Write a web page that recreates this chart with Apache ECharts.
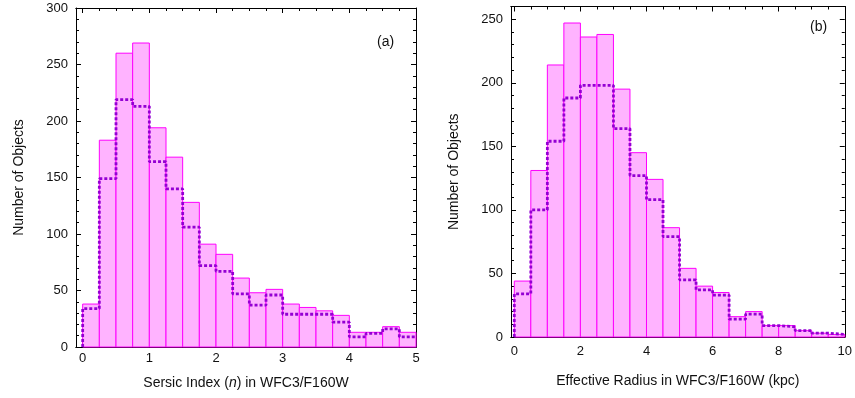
<!DOCTYPE html>
<html>
<head>
<meta charset="utf-8">
<script src="https://cdn.jsdelivr.net/npm/echarts@6/dist/echarts.min.js"></script>
<style>
  html, body { margin: 0; padding: 0; background: #fff; }
  #chart { width: 855px; height: 398px; }
</style>
</head>
<body>
<div id="chart"></div>
<script>
// Panel (a): Sersic index histogram, bins of 0.25 starting at 0
const sersicBinWidth = 0.25;
const sersicAll = [38, 183, 260, 269, 194, 168, 128, 91, 82, 61, 48, 51, 38, 35, 32, 28, 13, 13, 18, 13];
const sersicSub = [34, 149, 219, 213, 164, 140, 106, 72, 67, 47, 37, 46, 29, 29, 29, 22, 9, 12, 16, 9];
const sersicTicks = [0, 1, 2, 3, 4, 5];

// Panel (b): effective radius histogram, bins of 0.5 kpc starting at 0
const radiusBinWidth = 0.5;
const radiusAll = [44, 131, 214, 247, 236, 238, 195, 145, 124, 86, 54, 40, 35, 16, 20, 9, 9, 5, 3, 2];
const radiusSub = [34, 100, 154, 188, 198, 198, 164, 127, 108, 79, 45, 37, 33, 14, 18, 9, 8, 5, 3, 2];
const radiusTicks = [0, 2, 4, 6, 8, 10];

const FONT = '"Liberation Sans", Arial, sans-serif';
const TXT = '#111';

function binRects(counts, w) {
  return counts.map((v, i) => [i * w, (i + 1) * w, v]);
}
// step outline: start at the axis, then the right edge of each bin at its count
function stepPoints(counts, w) {
  const pts = [[0, 0]];
  counts.forEach((v, i) => pts.push([(i + 1) * w, v]));
  return pts;
}
function minorList(maxV, step) {
  const out = [];
  for (let k = 0; k * step <= maxV + 1e-9; k++) out.push(+(k * step).toFixed(4));
  return out;
}

function xAxes(gridIndex, max, majors, minors, name, labelMargin, nameGap) {
  const base = {
    type: 'value', gridIndex, min: -0.1, max,
    splitLine: { show: false },
    axisLine: { show: true, onZero: false, lineStyle: { color: '#000', width: 1 } },
  };
  return [
    Object.assign({}, base, {
      position: 'bottom',
      axisTick: { show: true, inside: true, length: 5, customValues: majors, lineStyle: { color: '#000' } },
      axisLabel: { show: true, customValues: majors, margin: labelMargin, color: TXT, fontSize: 13, fontFamily: FONT, formatter: v => String(v) },
      name, nameLocation: 'middle', nameGap,
      nameTextStyle: { color: TXT, fontSize: 14, fontFamily: FONT, rich: { i: { fontStyle: 'italic', fontSize: 14, fontFamily: FONT, color: TXT } } }
    }),
    Object.assign({}, base, {
      position: 'bottom',
      axisTick: { show: true, inside: true, length: 3, customValues: minors, lineStyle: { color: '#000' } },
      axisLabel: { show: false }
    }),
    Object.assign({}, base, {
      position: 'top',
      axisTick: { show: true, inside: true, length: 5, customValues: majors, lineStyle: { color: '#000' } },
      axisLabel: { show: false }
    }),
    Object.assign({}, base, {
      position: 'top',
      axisTick: { show: true, inside: true, length: 3, customValues: minors, lineStyle: { color: '#000' } },
      axisLabel: { show: false }
    })
  ];
}

function yAxes(gridIndex, max, interval, nameGap) {
  const base = {
    type: 'value', gridIndex, min: 0, max, interval,
    splitLine: { show: false },
    axisLine: { show: true, onZero: false, lineStyle: { color: '#000', width: 1 } },
    axisTick: { show: true, inside: true, length: 5, lineStyle: { color: '#000' } },
    minorTick: { show: true, splitNumber: 5, length: 3, lineStyle: { color: '#000' } },
    minorSplitLine: { show: false }
  };
  return [
    Object.assign({}, base, {
      position: 'left',
      axisLabel: { show: true, margin: 8, color: TXT, fontSize: 13, fontFamily: FONT },
      name: 'Number of Objects', nameLocation: 'middle', nameGap,
      nameTextStyle: { color: TXT, fontSize: 14, fontFamily: FONT }
    }),
    Object.assign({}, base, {
      position: 'right',
      axisLabel: { show: false }
    })
  ];
}

function renderBin(params, api) {
  const p0 = api.coord([api.value(0), api.value(2)]);
  const p1 = api.coord([api.value(1), 0]);
  return {
    type: 'rect',
    shape: { x: p0[0], y: p0[1], width: p1[0] - p0[0], height: p1[1] - p0[1] },
    style: { fill: '#ffb3ff', stroke: '#ff00ff', lineWidth: 1 }
  };
}

const chart = echarts.init(document.getElementById('chart'), null, { renderer: 'canvas' });

chart.setOption({
  animation: false,
  backgroundColor: '#fff',
  grid: [
    { left: 76, top: 8, width: 340, height: 339, containLabel: false },
    { left: 511, top: 3, width: 335, height: 334, containLabel: false }
  ],
  xAxis: [].concat(
    xAxes(0, 5, sersicTicks, minorList(5, 0.25), 'Sersic Index ({i|n}) in WFC3/F160W', 5, 29),
    xAxes(1, 10, radiusTicks, minorList(10, 0.5), 'Effective Radius in WFC3/F160W (kpc)', 8, 37)
  ),
  yAxis: [].concat(
    yAxes(0, 300, 50, 50),
    yAxes(1, 260, 50, 50)
  ),
  graphic: [
    { type: 'text', left: 377, top: 35, style: { text: '(a)', fill: TXT, fontSize: 14, fontFamily: FONT } },
    { type: 'text', left: 810, top: 20, style: { text: '(b)', fill: TXT, fontSize: 14, fontFamily: FONT } }
  ],
  series: [
    {
      type: 'custom', xAxisIndex: 0, yAxisIndex: 0,
      data: binRects(sersicAll, sersicBinWidth),
      encode: { x: [0, 1], y: 2 },
      renderItem: renderBin, z: 2
    },
    {
      type: 'line', xAxisIndex: 0, yAxisIndex: 0,
      data: stepPoints(sersicSub, sersicBinWidth), step: 'start',
      symbol: 'none', lineStyle: { color: '#9400d3', width: 2.8, type: [3, 2] }, z: 3
    },
    {
      type: 'custom', xAxisIndex: 4, yAxisIndex: 2,
      data: binRects(radiusAll, radiusBinWidth),
      encode: { x: [0, 1], y: 2 },
      renderItem: renderBin, z: 2
    },
    {
      type: 'line', xAxisIndex: 4, yAxisIndex: 2,
      data: stepPoints(radiusSub, radiusBinWidth), step: 'start',
      symbol: 'none', lineStyle: { color: '#9400d3', width: 2.8, type: [3, 2] }, z: 3
    }
  ]
});
</script>
</body>
</html>
